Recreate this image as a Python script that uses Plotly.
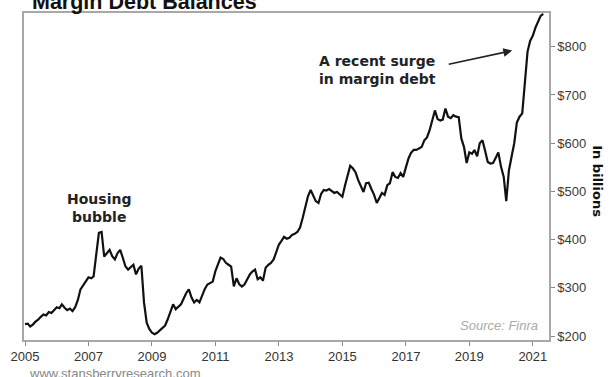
import pandas as pd
import plotly.graph_objects as go

# Monthly FINRA margin debt balances, $ billions, Jan 2005 onward
debt_2005 = [225, 226, 220, 224, 230, 234, 240, 245, 243, 250, 248, 255]
debt_2006 = [260, 258, 266, 259, 254, 257, 252, 260, 275, 297, 305, 312]
debt_2007 = [322, 320, 324, 370, 414, 416, 365, 372, 379, 366, 359, 372]
debt_2008 = [379, 362, 345, 338, 342, 348, 328, 340, 346, 270, 228, 215]
debt_2009 = [207, 204, 207, 212, 218, 222, 235, 252, 266, 256, 262, 266]
debt_2010 = [278, 290, 297, 280, 270, 275, 270, 285, 298, 307, 310, 313]
debt_2011 = [335, 352, 363, 360, 352, 348, 344, 303, 320, 308, 303, 307]
debt_2012 = [318, 328, 334, 338, 318, 322, 315, 342, 348, 352, 359, 375]
debt_2013 = [390, 398, 406, 402, 404, 410, 412, 416, 425, 445, 470, 490]
debt_2014 = [503, 492, 480, 476, 495, 503, 502, 505, 500, 497, 499, 494]
debt_2015 = [489, 513, 530, 553, 548, 540, 524, 510, 499, 517, 518, 505]
debt_2016 = [493, 476, 487, 497, 493, 513, 517, 540, 530, 528, 538, 530]
debt_2017 = [550, 569, 580, 586, 586, 590, 592, 606, 612, 627, 648, 668]
debt_2018 = [650, 647, 649, 672, 655, 652, 658, 655, 654, 610, 592, 559]
debt_2019 = [581, 578, 586, 573, 600, 606, 585, 561, 558, 559, 570, 581]
debt_2020 = [551, 530, 480, 544, 572, 600, 643, 655, 662, 730, 790, 812]
debt_2021 = [823, 840, 852, 864, 868]

margin_debt = (debt_2005 + debt_2006 + debt_2007 + debt_2008 + debt_2009 + debt_2010
               + debt_2011 + debt_2012 + debt_2013 + debt_2014 + debt_2015 + debt_2016
               + debt_2017 + debt_2018 + debt_2019 + debt_2020 + debt_2021)
months = pd.date_range("2005-01-01", periods=len(margin_debt), freq="MS")

x_tick_labels = ["2005", "2007", "2009", "2011", "2013", "2015", "2017", "2019", "2021"]
x_tick_vals = [f"{y}-01-01" for y in x_tick_labels]
y_tick_vals = [200, 300, 400, 500, 600, 700, 800]
y_tick_labels = ["$200", "$300", "$400", "$500", "$600", "$700", "$800"]

fig = go.Figure()
fig.add_trace(go.Scatter(
    x=months, y=margin_debt, mode="lines",
    line=dict(color="#111111", width=2.2),
    hoverinfo="skip", showlegend=False,
))

frame = "#a8a8a8"
fig.update_layout(
    width=610, height=377,
    margin=dict(l=22, r=61, t=11, b=37),
    paper_bgcolor="white", plot_bgcolor="white",
    font=dict(family="Liberation Sans, Arial, sans-serif", color="#333333", size=13),
    xaxis=dict(
        type="date", range=["2004-12-20", "2021-07-06"],
        tickmode="array", tickvals=x_tick_vals, ticktext=x_tick_labels,
        showgrid=False, zeroline=False,
        showline=True, mirror=True, linecolor=frame, linewidth=1.5,
        ticks="outside", ticklen=4, tickcolor="#888888", tickwidth=1,
        tickfont=dict(size=13, color="#333333"),
    ),
    yaxis=dict(
        side="right", range=[192, 870],
        tickmode="array", tickvals=y_tick_vals, ticktext=y_tick_labels,
        showgrid=False, zeroline=False,
        showline=True, mirror=True, linecolor=frame, linewidth=1.5,
        ticks="outside", ticklen=4, tickcolor="#888888", tickwidth=1,
        tickfont=dict(size=13, color="#3a3a3a"),
    ),
)

annotations = [
    dict(text="<b>Margin Debt Balances</b>", xref="paper", yref="paper",
         x=0.012, y=1.033, xanchor="left", yanchor="middle", showarrow=False,
         font=dict(family="Liberation Sans, Arial, sans-serif", size=21.5, color="#111111")),
    dict(text="<b>Housing<br>bubble</b>", xref="x", yref="y",
         x="2007-05-01", y=466, xanchor="center", yanchor="middle", showarrow=False,
         font=dict(family="DejaVu Sans, Verdana, sans-serif", size=14, color="#222222")),
    dict(text="<b>A recent surge<br>in margin debt</b>", xref="x", yref="y",
         x="2014-03-15", y=752, xanchor="left", yanchor="middle", align="left", showarrow=False,
         font=dict(family="DejaVu Sans, Verdana, sans-serif", size=14, color="#222222")),
    dict(text="", xref="x", yref="y", x="2020-05-08", y=792,
         axref="x", ayref="y", ax="2018-04-22", ay=763,
         showarrow=True, arrowhead=2, arrowsize=1.1, arrowwidth=1.6, arrowcolor="#222222"),
    dict(text="<b>In billions</b>", xref="paper", yref="paper",
         x=1.093, y=0.486, xanchor="center", yanchor="middle", textangle=90, showarrow=False,
         font=dict(family="DejaVu Sans, Verdana, sans-serif", size=13, color="#111111")),
    dict(text="<i>Source: Finra</i>", xref="paper", yref="paper",
         x=0.983, y=0.043, xanchor="right", yanchor="middle", showarrow=False,
         font=dict(family="Liberation Sans, Arial, sans-serif", size=13, color="#aaaaaa")),
    dict(text="www.stansberryresearch.com", xref="paper", yref="paper",
         x=0.005, y=-0.101, xanchor="left", yanchor="middle", showarrow=False,
         font=dict(family="Liberation Sans, Arial, sans-serif", size=13, color="#888888")),
]
fig.update_layout(annotations=annotations)

fig.write_html("out.html")
